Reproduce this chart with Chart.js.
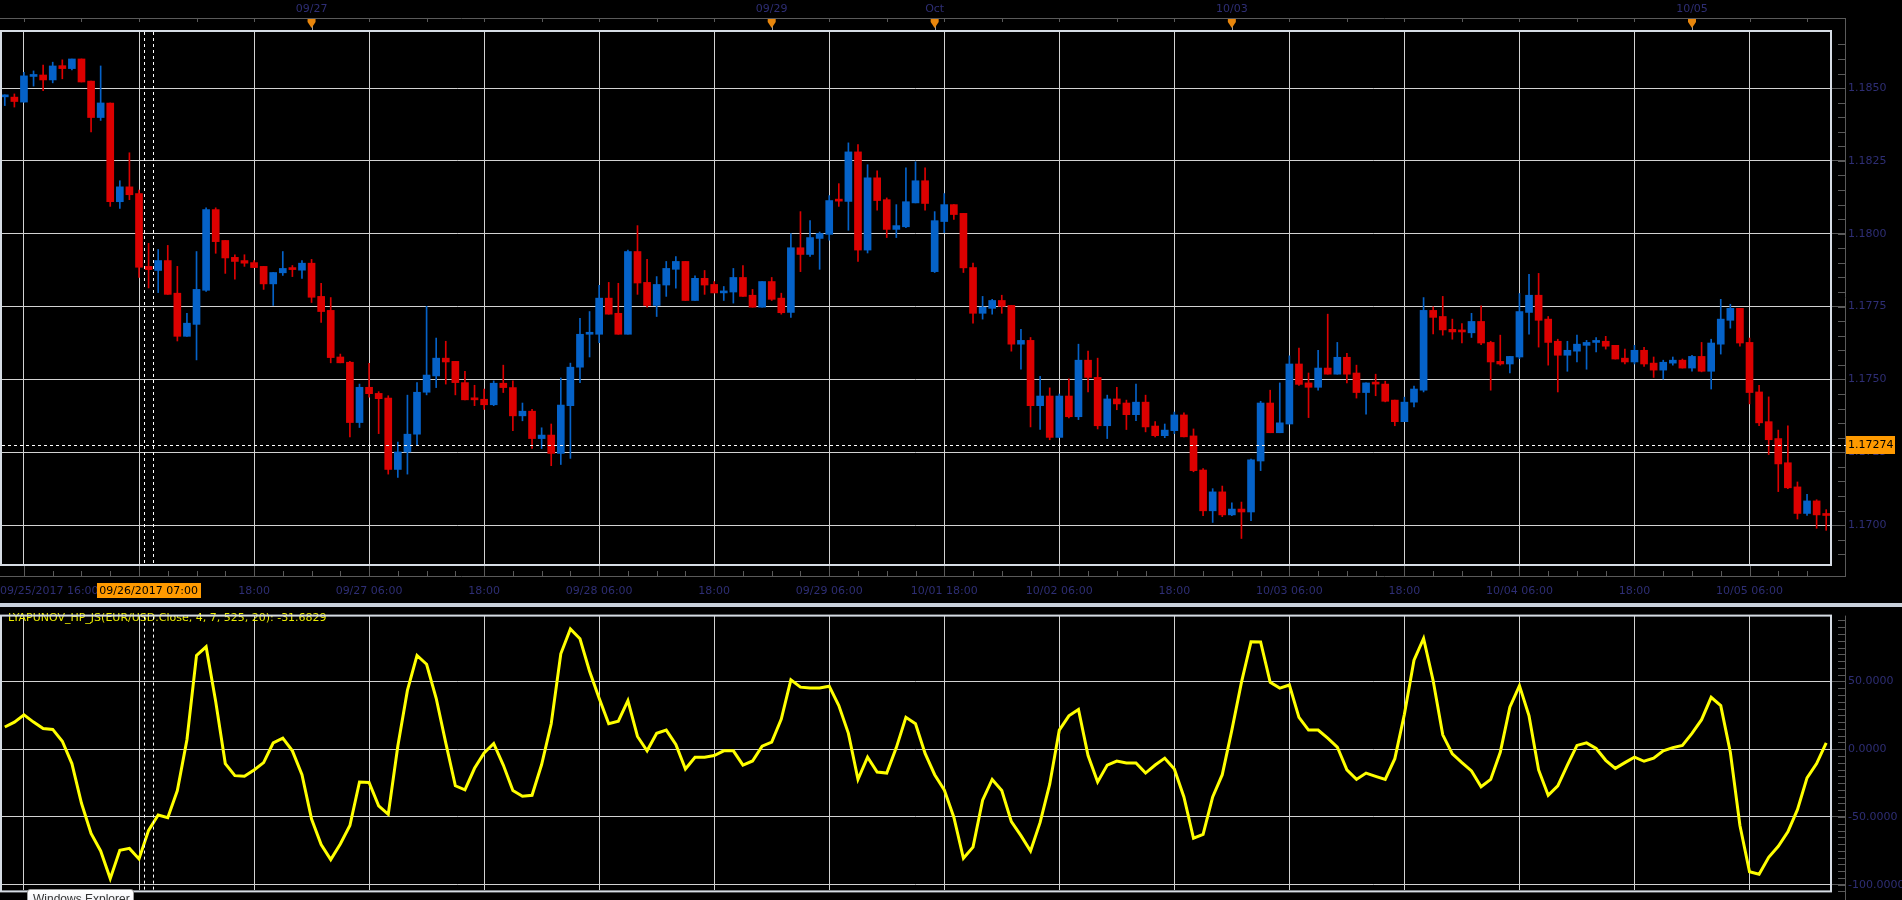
<!DOCTYPE html>
<html><head><meta charset="utf-8">
<script src="https://cdn.jsdelivr.net/npm/chart.js@4.4.1/dist/chart.umd.min.js"></script>
<style>
html,body{margin:0;padding:0;background:#000;overflow:hidden;width:1902px;height:900px;}
#main{position:absolute;left:0;top:0;}
#sep{position:absolute;left:0;top:603px;width:1902px;height:4px;background:#c9d1dc;}
#ind{position:absolute;left:0;top:606px;}
#tip{position:absolute;left:27px;top:889px;width:100px;height:22px;background:linear-gradient(#ffffff,#e6e8f0);border:1px solid #9a9a9a;border-radius:3px;font:12px "Liberation Sans";color:#333;padding:2px 0 0 5px;line-height:14px;white-space:nowrap;overflow:hidden;box-sizing:content-box;}
</style></head><body>
<canvas id="main" width="1902" height="604"></canvas>
<div id="sep"></div>
<canvas id="ind" width="1902" height="294"></canvas>
<div id="tip">Windows Explorer</div>
<script>
// ---- categories: hourly bars (NY time), by trading session ----
const sessions = [["09/25",16,23],["09/26",0,23],["09/27",0,23],["09/28",0,23],["09/29",0,16],
                  ["10/01",17,23],["10/02",0,23],["10/03",0,23],["10/04",0,23],["10/05",0,14]];
const categories = [];
sessions.forEach(([d,a,b])=>{for(let h=a;h<=b;h++) categories.push(d+" "+String(h).padStart(2,"0")+":00");});

const opens = [1.18470,1.18469,1.18452,1.18540,1.18545,1.18528,1.18577,1.18567,1.18600,1.18524,
1.18399,1.18449,1.18110,1.18161,1.18138,1.17888,1.17874,1.17908,1.17796,1.17648,
1.17689,1.17806,1.18083,1.17977,1.17919,1.17908,1.17901,1.17888,1.17828,1.17866,
1.17881,1.17875,1.17899,1.17785,1.17737,1.17577,1.17559,1.17352,1.17473,1.17452,
1.17436,1.17191,1.17251,1.17312,1.17456,1.17512,1.17573,1.17562,1.17489,1.17432,
1.17432,1.17413,1.17487,1.17472,1.17375,1.17391,1.17297,1.17309,1.17246,1.17410,
1.17542,1.17655,1.17655,1.17779,1.17727,1.17655,1.17939,1.17833,1.17754,1.17824,
1.17878,1.17905,1.17771,1.17847,1.17826,1.17797,1.17800,1.17850,1.17789,1.17748,
1.17836,1.17779,1.17730,1.17952,1.17929,1.17984,1.17998,1.18114,1.18111,1.18281,
1.17944,1.18192,1.18117,1.18015,1.18024,1.18106,1.18182,1.17870,1.18042,1.18100,
1.18070,1.17884,1.17727,1.17744,1.17771,1.17754,1.17621,1.17634,1.17410,1.17443,
1.17301,1.17443,1.17372,1.17566,1.17507,1.17341,1.17433,1.17419,1.17379,1.17422,
1.17340,1.17307,1.17324,1.17378,1.17306,1.17189,1.17049,1.17114,1.17035,1.17055,
1.17045,1.17220,1.17419,1.17317,1.17347,1.17553,1.17488,1.17473,1.17539,1.17518,
1.17576,1.17522,1.17455,1.17487,1.17484,1.17429,1.17355,1.17422,1.17463,1.17737,
1.17716,1.17672,1.17665,1.17660,1.17699,1.17627,1.17562,1.17553,1.17577,1.17730,
1.17789,1.17707,1.17631,1.17583,1.17597,1.17617,1.17627,1.17631,1.17617,1.17573,
1.17560,1.17600,1.17556,1.17532,1.17556,1.17566,1.17539,1.17579,1.17528,1.17621,
1.17703,1.17744,1.17627,1.17457,1.17355,1.17297,1.17214,1.17131,1.17040,1.17083,
1.17035];
const highs = [1.18477,1.18480,1.18554,1.18559,1.18579,1.18589,1.18597,1.18600,1.18600,1.18524,
1.18576,1.18449,1.18182,1.18278,1.18150,1.17967,1.17946,1.17960,1.17888,1.17727,
1.17939,1.18089,1.18089,1.17977,1.17928,1.17928,1.17908,1.17888,1.17867,1.17939,
1.17891,1.17908,1.17912,1.17830,1.17781,1.17587,1.17562,1.17484,1.17555,1.17458,
1.17444,1.17285,1.17446,1.17489,1.17751,1.17642,1.17631,1.17562,1.17528,1.17480,
1.17467,1.17495,1.17549,1.17495,1.17419,1.17397,1.17334,1.17347,1.17505,1.17556,
1.17710,1.17733,1.17823,1.17833,1.17830,1.17944,1.18028,1.17912,1.17853,1.17905,
1.17922,1.17905,1.17856,1.17874,1.17836,1.17819,1.17881,1.17891,1.17809,1.17836,
1.17850,1.17796,1.18001,1.18076,1.18045,1.18006,1.18131,1.18172,1.18312,1.18306,
1.18237,1.18216,1.18123,1.18100,1.18226,1.18247,1.18226,1.18076,1.18138,1.18100,
1.18070,1.17899,1.17785,1.17775,1.17789,1.17754,1.17672,1.17644,1.17511,1.17471,
1.17450,1.17502,1.17621,1.17597,1.17573,1.17446,1.17473,1.17429,1.17484,1.17446,
1.17355,1.17347,1.17388,1.17385,1.17330,1.17194,1.17125,1.17134,1.17076,1.17079,
1.17227,1.17425,1.17463,1.17488,1.17581,1.17608,1.17522,1.17600,1.17724,1.17627,
1.17590,1.17549,1.17488,1.17518,1.17494,1.17429,1.17439,1.17477,1.17781,1.17749,
1.17785,1.17707,1.17692,1.17727,1.17753,1.17631,1.17652,1.17579,1.17795,1.17861,
1.17864,1.17716,1.17638,1.17631,1.17652,1.17634,1.17644,1.17648,1.17617,1.17604,
1.17617,1.17610,1.17577,1.17566,1.17577,1.17570,1.17583,1.17627,1.17638,1.17775,
1.17758,1.17744,1.17642,1.17480,1.17440,1.17326,1.17341,1.17148,1.17106,1.17087,
1.17053];
const lows = [1.18440,1.18435,1.18452,1.18507,1.18491,1.18518,1.18532,1.18562,1.18521,1.18350,
1.18389,1.18094,1.18087,1.18117,1.17850,1.17814,1.17798,1.17792,1.17632,1.17648,
1.17567,1.17802,1.17933,1.17864,1.17844,1.17888,1.17884,1.17809,1.17754,1.17857,
1.17853,1.17847,1.17764,1.17696,1.17557,1.17557,1.17303,1.17335,1.17439,1.17314,
1.17175,1.17164,1.17175,1.17273,1.17447,1.17472,1.17484,1.17447,1.17430,1.17410,
1.17397,1.17410,1.17455,1.17324,1.17358,1.17263,1.17263,1.17204,1.17208,1.17229,
1.17489,1.17577,1.17626,1.17724,1.17655,1.17655,1.17792,1.17748,1.17716,1.17785,
1.17813,1.17771,1.17771,1.17792,1.17797,1.17771,1.17762,1.17785,1.17748,1.17748,
1.17771,1.17724,1.17713,1.17870,1.17922,1.17878,1.17978,1.18094,1.18012,1.17905,
1.17934,1.18081,1.17987,1.17987,1.18021,1.18106,1.18081,1.17867,1.18004,1.18049,
1.17867,1.17693,1.17707,1.17724,1.17727,1.17597,1.17535,1.17337,1.17328,1.17293,
1.17301,1.17368,1.17362,1.17457,1.17330,1.17297,1.17396,1.17328,1.17358,1.17320,
1.17303,1.17300,1.17314,1.17303,1.17183,1.17032,1.17009,1.17029,1.17032,1.16954,
1.17015,1.17187,1.17317,1.17317,1.17347,1.17479,1.17369,1.17463,1.17518,1.17518,
1.17488,1.17436,1.17381,1.17444,1.17423,1.17341,1.17355,1.17406,1.17457,1.17656,
1.17652,1.17638,1.17625,1.17644,1.17619,1.17463,1.17549,1.17522,1.17571,1.17655,
1.17611,1.17549,1.17457,1.17528,1.17560,1.17535,1.17594,1.17604,1.17570,1.17553,
1.17553,1.17545,1.17507,1.17501,1.17549,1.17539,1.17528,1.17526,1.17467,1.17587,
1.17676,1.17614,1.17416,1.17341,1.17242,1.17115,1.17125,1.17021,1.17033,1.16989,
1.16982];
const closes = [1.18472,1.18454,1.18542,1.18543,1.18528,1.18576,1.18567,1.18600,1.18521,1.18399,
1.18449,1.18110,1.18161,1.18134,1.17885,1.17877,1.17908,1.17792,1.17648,1.17693,
1.17809,1.18083,1.17973,1.17917,1.17905,1.17899,1.17884,1.17828,1.17867,1.17881,
1.17877,1.17899,1.17782,1.17733,1.17575,1.17557,1.17352,1.17473,1.17451,1.17434,
1.17191,1.17251,1.17312,1.17456,1.17515,1.17573,1.17560,1.17489,1.17430,1.17430,
1.17413,1.17487,1.17472,1.17375,1.17391,1.17297,1.17309,1.17246,1.17412,1.17542,
1.17655,1.17658,1.17779,1.17724,1.17655,1.17939,1.17831,1.17754,1.17826,1.17881,
1.17905,1.17771,1.17847,1.17824,1.17797,1.17800,1.17850,1.17785,1.17748,1.17836,
1.17775,1.17729,1.17952,1.17929,1.17987,1.18001,1.18114,1.18112,1.18281,1.17944,
1.18192,1.18114,1.18015,1.18028,1.18110,1.18182,1.18104,1.18045,1.18100,1.18066,
1.17883,1.17727,1.17748,1.17771,1.17751,1.17621,1.17634,1.17410,1.17443,1.17301,
1.17443,1.17372,1.17566,1.17507,1.17341,1.17433,1.17416,1.17379,1.17422,1.17337,
1.17307,1.17326,1.17378,1.17303,1.17187,1.17049,1.17114,1.17035,1.17055,1.17045,
1.17224,1.17419,1.17317,1.17351,1.17553,1.17483,1.17473,1.17539,1.17518,1.17576,
1.17518,1.17455,1.17488,1.17484,1.17425,1.17355,1.17422,1.17467,1.17737,1.17713,
1.17670,1.17663,1.17663,1.17699,1.17625,1.17560,1.17553,1.17579,1.17733,1.17789,
1.17703,1.17627,1.17583,1.17600,1.17621,1.17627,1.17629,1.17614,1.17570,1.17560,
1.17600,1.17553,1.17532,1.17559,1.17566,1.17539,1.17579,1.17528,1.17625,1.17707,
1.17744,1.17625,1.17455,1.17351,1.17293,1.17210,1.17128,1.17040,1.17083,1.17035,
1.17033];
const indicator = [16.4,20.0,25.4,20.0,15.3,14.6,5.9,-10.6,-39.9,-62.2,
-75.1,-95.5,-74.6,-73.2,-81.0,-59.9,-48.6,-50.5,-30.5,7.0,
69.2,75.6,35.2,-10.6,-19.5,-20.0,-15.3,-9.9,4.7,8.2,
-1.2,-18.8,-51.6,-70.4,-81.5,-70.0,-56.3,-24.2,-24.6,-41.8,
-48.1,2.3,43.4,69.2,62.7,37.6,4.7,-27.0,-30.0,-14.1,
-2.8,4.2,-11.7,-30.5,-34.7,-34.0,-11.3,18.8,70.4,88.7,
81.5,57.5,37.6,18.8,20.7,35.9,9.4,-1.2,11.7,14.1,
3.5,-14.6,-5.9,-5.9,-4.7,-1.2,-1.2,-11.7,-8.7,2.3,
5.2,22.3,51.2,45.8,45.1,45.1,46.5,32.2,11.7,-22.3,
-5.9,-16.9,-17.6,1.2,23.5,18.8,-3.1,-18.8,-30.0,-50.2,
-80.5,-72.3,-37.6,-22.3,-30.5,-53.5,-63.8,-75.1,-54.0,-25.8,
14.1,24.6,29.3,-4.7,-24.2,-11.7,-8.7,-10.1,-10.1,-17.6,
-11.7,-6.6,-14.6,-35.2,-65.7,-62.9,-35.2,-18.8,14.1,49.3,
79.3,79.1,49.3,45.1,47.4,23.5,14.1,14.1,8.2,1.6,
-15.3,-22.3,-17.6,-20.0,-22.3,-7.0,25.8,65.7,81.7,50.5,
10.6,-3.5,-9.9,-16.0,-27.7,-22.3,-2.3,31.0,46.9,24.6,
-15.3,-34.0,-27.0,-11.7,2.8,4.7,0.5,-8.2,-14.1,-9.9,
-5.9,-8.9,-6.6,-1.2,1.2,2.8,11.7,21.8,38.3,32.2,
-2.3,-56.3,-90.4,-92.3,-79.8,-71.6,-61.0,-44.6,-21.1,-10.6,
4.7];

const priceTicks = [1.1700,1.1725,1.1750,1.1775,1.1800,1.1825,1.1850];
const indTicks = [50,0,-50,-100];
const xTickLabels = [["09/25 16:00","09/25/2017 16:00"],["09/26 18:00","18:00"],["09/27 06:00","09/27 06:00"],
 ["09/27 18:00","18:00"],["09/28 06:00","09/28 06:00"],["09/28 18:00","18:00"],["09/29 06:00","09/29 06:00"],
 ["10/01 18:00","10/01 18:00"],["10/02 06:00","10/02 06:00"],["10/02 18:00","18:00"],["10/03 06:00","10/03 06:00"],
 ["10/03 18:00","18:00"],["10/04 06:00","10/04 06:00"],["10/04 18:00","18:00"],["10/05 06:00","10/05 06:00"]];
const dayMarks = [["09/27 00:00","09/27"],["09/29 00:00","09/29"],["10/01 17:00","Oct"],["10/03 00:00","10/03"],["10/05 00:00","10/05"]];
const crossCat = "09/26 07:00", crossTimeText = "09/26/2017 07:00";
const crossPrice = 1.17274, crossPriceText = "1.17274";
const indTitle = "LYAPUNOV_HP_JS(EUR/USD.Close, 4, 7, 525, 20): -31.6829";

// ---- styles ----
const UP = "#0562c8", DOWN = "#dc0000", GRID = "#d2d2d2", FRAME = "#d6dce4", AXIS = "#5a5a5a";
const LABEL = "#2e2e74", ORANGE = "#ff9a00", MARK = "#e8860c", YELLOW = "#ffff00";
const FONT = '11px "DejaVu Sans"';
const hourOf = c => parseInt(c.slice(6,8),10);
const isGridCat = i => { const h = hourOf(categories[i]); return h===6 || h===18; };
function seg(ctx,x1,y1,x2,y2){ctx.beginPath();ctx.moveTo(x1,y1);ctx.lineTo(x2,y2);ctx.stroke();}
const crisp = x => Math.round(x)+0.5;

function drawCross(chart, top, bottom){
  const ctx = chart.ctx, xs = chart.scales.x;
  const cx = xs.getPixelForValue(categories.indexOf(crossCat));
  ctx.save(); ctx.strokeStyle = "#ffffff"; ctx.lineWidth = 1; ctx.setLineDash([3,3]);
  seg(ctx, crisp(cx-4.6), top, crisp(cx-4.6), bottom);
  seg(ctx, crisp(cx+4.6), top, crisp(cx+4.6), bottom);
  ctx.restore();
  return cx;
}

const mainDecor = {
  id:"mainDecor",
  afterDraw(chart){
    const ctx = chart.ctx, xs = chart.scales.x, ys = chart.scales.y, ca = chart.chartArea;
    ctx.save();
    ctx.strokeStyle = AXIS; ctx.lineWidth = 1;
    // top time strip
    seg(ctx, 0, 18.5, 1846, 18.5);
    categories.forEach((c,i)=>{ if(hourOf(c)%6===0){ const x = crisp(xs.getPixelForValue(i)); seg(ctx,x,18.5,x,22); }});
    ctx.font = FONT; ctx.textAlign = "center"; ctx.textBaseline = "middle";
    dayMarks.forEach(([cat,txt])=>{
      const x = xs.getPixelForValue(categories.indexOf(cat));
      ctx.fillStyle = LABEL; ctx.fillText(txt, x, 9);
      ctx.strokeStyle = "#9a9a9a"; seg(ctx, crisp(x), 25, crisp(x), 31);
      ctx.fillStyle = MARK; ctx.beginPath(); ctx.moveTo(x-4,19); ctx.lineTo(x+4,19); ctx.lineTo(x+4,22); ctx.lineTo(x,28); ctx.lineTo(x-4,22); ctx.closePath(); ctx.fill();
    });
    // right axis line + minor ticks
    ctx.strokeStyle = AXIS;
    seg(ctx, 1845.5, 18, 1845.5, 577);
    for(let k=Math.ceil(ys.min/0.0005); k*0.0005<=ys.max; k++){
      const y = crisp(ys.getPixelForValue(k*0.0005)); seg(ctx, 1838, y, 1845, y);
    }
    // bottom time axis
    seg(ctx, 0, 576.5, 1846, 576.5);
    categories.forEach((c,i)=>{ const h = hourOf(c); if(h%3===0){ const x = crisp(xs.getPixelForValue(i)); seg(ctx, x, (h===6||h===18)?565:571, x, 576.5); }});
    ctx.fillStyle = LABEL; ctx.font = FONT; ctx.textBaseline = "middle";
    xTickLabels.forEach(([cat,txt],k)=>{
      const i = categories.indexOf(cat);
      if(k===0){ ctx.textAlign="left"; ctx.fillText(txt, 0, 591); }
      else { ctx.textAlign="center"; ctx.fillText(txt, xs.getPixelForValue(i), 591); }
    });
    // frame
    ctx.strokeStyle = FRAME; ctx.lineWidth = 2;
    ctx.strokeRect(1, ca.top, ca.right-1, ca.bottom-ca.top);
    ctx.restore();
    // crosshair
    const cx = drawCross(chart, ca.top+1, ca.bottom-1);
    const cy = ys.getPixelForValue(crossPrice);
    ctx.save(); ctx.strokeStyle="#ffffff"; ctx.lineWidth=1; ctx.setLineDash([3,3]);
    seg(ctx, 2, crisp(cy), 1846, crisp(cy)); ctx.restore();
    ctx.save();
    ctx.fillStyle = ORANGE; ctx.fillRect(1846, Math.round(cy)-9, 49, 18);
    ctx.fillStyle = "#000"; ctx.font = FONT; ctx.textAlign="left"; ctx.textBaseline="middle";
    ctx.fillText(crossPriceText, 1848, Math.round(cy)+0.5);
    ctx.fillStyle = ORANGE; ctx.fillRect(Math.round(cx)-52, 583, 104, 15);
    ctx.fillStyle = "#000"; ctx.textAlign="center"; ctx.fillText(crossTimeText, cx, 591);
    ctx.restore();
  }
};

const indDecor = {
  id:"indDecor",
  afterDraw(chart){
    const ctx = chart.ctx, ys = chart.scales.y, ca = chart.chartArea;
    ctx.save();
    ctx.strokeStyle = AXIS; ctx.lineWidth = 1;
    seg(ctx, 1845.5, ca.top, 1845.5, 300);
    for(let v=-105; v<=ys.max; v+=5){ const y = crisp(ys.getPixelForValue(v)); seg(ctx, 1838, y, 1845, y); }
    ctx.fillStyle = "#eaea00"; ctx.font = FONT; ctx.textAlign="left"; ctx.textBaseline="middle";
    ctx.fillText(indTitle, 8, 12);
    ctx.strokeStyle = FRAME; ctx.lineWidth = 2;
    ctx.strokeRect(1, ca.top, ca.right-1, ca.bottom-ca.top+1);
    ctx.restore();
    drawCross(chart, ca.top+1, ca.bottom);
  }
};

const barColors = opens.map((o,i)=> closes[i] >= o ? UP : DOWN);
const tickFont = {family:"DejaVu Sans", size:11};

new Chart(document.getElementById("main"), {
  type:"bar",
  data:{ labels: categories, datasets:[
    {label:"High-Low", data: lows.map((l,i)=>[l, highs[i]]), backgroundColor: barColors, barThickness:1, grouped:false, order:2},
    {label:"Open-Close", data: opens.map((o,i)=>[o, closes[i]]), backgroundColor: barColors, barThickness:7, grouped:false, order:1, minBarLength:2}
  ]},
  options:{
    responsive:false, animation:false, events:[],
    layout:{padding:{top:31,left:0,right:0,bottom:0}},
    plugins:{legend:{display:false}, tooltip:{enabled:false}},
    scales:{
      x:{type:"category", offset:true,
         grid:{offset:false, color: c => isGridCat(c.index) ? GRID : "rgba(0,0,0,0)", lineWidth:1, drawTicks:false},
         border:{display:false}, ticks:{display:false},
         afterFit: s => { s.height = 39; }},
      y:{position:"right", min:1.16863, max:1.18696,
         afterBuildTicks: s => { s.ticks = priceTicks.map(v=>({value:v})); },
         grid:{color:GRID, tickColor:AXIS, tickLength:14, lineWidth:1},
         border:{display:false},
         ticks:{color:LABEL, font:tickFont, padding:3, callback: v => Number(v).toFixed(4)},
         afterFit: s => { s.width = 71; }}
    }
  },
  plugins:[mainDecor]
});

new Chart(document.getElementById("ind"), {
  type:"line",
  data:{ labels: categories, datasets:[
    {label:"LYAPUNOV_HP_JS", data: indicator, borderColor: YELLOW, borderWidth:3, pointRadius:0, tension:0, fill:false}
  ]},
  options:{
    responsive:false, animation:false, events:[],
    layout:{padding:{top:4,left:0,right:0,bottom:2}},
    plugins:{legend:{display:false}, tooltip:{enabled:false}},
    scales:{
      x:{type:"category", offset:true,
         grid:{offset:false, color: c => isGridCat(c.index) ? GRID : "rgba(0,0,0,0)", lineWidth:1, drawTicks:false},
         border:{display:false}, ticks:{display:false},
         afterFit: s => { s.height = 0; }},
      y:{position:"right", min:-104.2, max:98.6,
         afterBuildTicks: s => { s.ticks = indTicks.map(v=>({value:v})); },
         grid:{color:GRID, tickColor:AXIS, tickLength:14, lineWidth:1},
         border:{display:false},
         ticks:{color:LABEL, font:tickFont, padding:3, callback: v => Number(v).toFixed(4)},
         afterFit: s => { s.width = 71; }}
    }
  },
  plugins:[indDecor]
});
</script>
</body></html>
